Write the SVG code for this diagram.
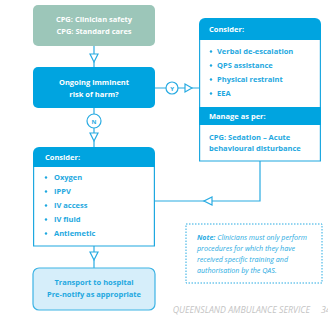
<svg xmlns="http://www.w3.org/2000/svg" width="328" height="320" viewBox="0 0 328 320">
<style>
text{font-family:"Open Sans","Noto Sans",sans-serif;font-weight:700;font-size:7.5px}
.w{fill:#ffffff}
.c{fill:#1ea8e0}
.ln{fill:none;stroke:#29abe2;stroke-width:1.2}
.tri{fill:#ffffff;stroke:#29abe2;stroke-width:1.2}
.blue{fill:#00a4e0}
.out{fill:#ffffff;stroke:#1ea8e0;stroke-width:1.2}
.mid{text-anchor:middle}
.note{font-style:italic;font-weight:400;fill:#29abe2;font-size:7.1px}
.foot{font-style:italic;font-weight:400;font-size:8.8px;fill:#c4c4c4}
</style>
<rect width="328" height="320" fill="#ffffff"/>
<g id="connectors">
  <line class="ln" x1="94" y1="46" x2="94" y2="67"/>
  <polygon class="tri" points="90,54 98,54 94,62"/>
  <line class="ln" x1="155" y1="88" x2="199" y2="88"/>
  <circle class="tri" cx="172" cy="88" r="6"/>
  <text x="172" y="90.5" class="mid" style="font-size:6px;fill:#29abe2">Y</text>
  <polygon class="tri" points="185,84 185,92 192,88"/>
  <line class="ln" x1="94" y1="108" x2="94" y2="147"/>
  <circle class="tri" cx="94" cy="121" r="7"/>
  <text x="94" y="123.5" class="mid" style="font-size:6px;fill:#29abe2">N</text>
  <polygon class="tri" points="90,133 98,133 94,141"/>
  <polyline class="ln" points="260,161 260,201 155,201"/>
  <polygon class="tri" points="212,197 212,205 204,201"/>
  <line class="ln" x1="94" y1="246" x2="94" y2="268"/>
  <polygon class="tri" points="90,252 98,252 94,260"/>
</g>
<g id="n1">
  <rect x="33" y="5" width="122" height="41" rx="5" fill="#9cc6b9"/>
  <text x="94" y="22" class="w mid">CPG: Clinician safety</text>
  <text x="94" y="34" class="w mid">CPG: Standard cares</text>
</g>
<g id="n2">
  <rect x="33" y="67" width="122" height="41" rx="5" class="blue"/>
  <text x="94" y="85" class="w mid">Ongoing imminent</text>
  <text x="94" y="97" class="w mid">risk of harm?</text>
</g>
<g id="n3">
  <path d="M199.6,40 V161 H320.4 V40" class="out"/>
  <path d="M199,40 V24 A6,6 0 0 1 205,18 H315 A6,6 0 0 1 321,24 V40 Z" class="blue"/>
  <text x="209" y="32" class="w">Consider:</text>
  <g class="c">
    <circle cx="211" cy="51.5" r="1.2"/><text x="217" y="54">Verbal de-escalation</text>
    <circle cx="211" cy="65.5" r="1.2"/><text x="217" y="68">QPS assistance</text>
    <circle cx="211" cy="79.5" r="1.2"/><text x="217" y="82">Physical restraint</text>
    <circle cx="211" cy="93.5" r="1.2"/><text x="217" y="96">EEA</text>
  </g>
  <rect x="199" y="107" width="122" height="18" class="blue"/>
  <text x="209" y="118.5" class="w">Manage as per:</text>
  <text x="209" y="140" class="c">CPG: Sedation – Acute</text>
  <text x="209" y="151" class="c">behavioural disturbance</text>
</g>
<g id="n4">
  <path d="M33.6,167 V246 H154.4 V167" class="out"/>
  <path d="M33,167 V153 A6,6 0 0 1 39,147 H149 A6,6 0 0 1 155,153 V167 Z" class="blue"/>
  <text x="45" y="159.5" class="w">Consider:</text>
  <g class="c">
    <circle cx="46" cy="177.5" r="1.2"/><text x="54" y="180">Oxygen</text>
    <circle cx="46" cy="191.5" r="1.2"/><text x="54" y="194">IPPV</text>
    <circle cx="46" cy="205.5" r="1.2"/><text x="54" y="208">IV access</text>
    <circle cx="46" cy="219.5" r="1.2"/><text x="54" y="222">IV fluid</text>
    <circle cx="46" cy="233.5" r="1.2"/><text x="54" y="236">Antiemetic</text>
  </g>
</g>
<g id="n5">
  <rect x="33" y="268" width="122" height="42" rx="6" fill="#d6eefa" stroke="#3cb3e4" stroke-width="1.2"/>
  <text x="94" y="285" class="c mid">Transport to hospital</text>
  <text x="94" y="297" class="c mid">Pre-notify as appropriate</text>
</g>
<g id="note">
  <rect x="186" y="224" width="136" height="59" fill="none" stroke="#29abe2" stroke-width="1" stroke-dasharray="1.5,1.5"/>
  <text x="197" y="240" class="note"><tspan style="font-weight:700">Note:</tspan> Clinicians must only perform</text>
  <text x="197" y="251" class="note">procedures for which they have</text>
  <text x="197" y="262" class="note">received specific training and</text>
  <text x="197" y="273" class="note">authorisation by the QAS.</text>
</g>
<g id="footer">
  <text x="310" y="313" text-anchor="end" class="foot">QUEENSLAND AMBULANCE SERVICE</text>
  <text x="321" y="313" class="foot">34</text>
</g>
</svg>
